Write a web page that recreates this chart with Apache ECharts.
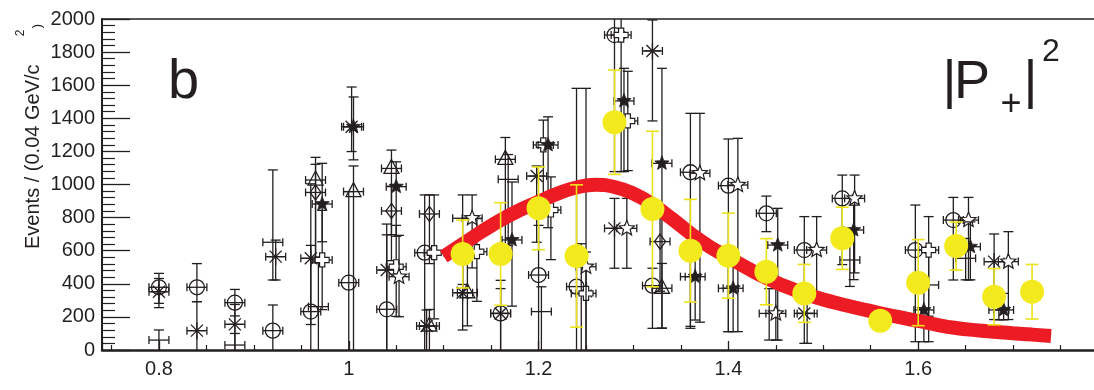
<!DOCTYPE html>
<html><head><meta charset="utf-8">
<script src="https://cdn.jsdelivr.net/npm/echarts@6/dist/echarts.min.js"></script>
<style>html,body{margin:0;padding:0;background:#fff;overflow:hidden}#chart{width:1094px;height:390px}</style>
</head><body><div id="chart"></div>
<script>
// ---------- axis ticks ----------
const xTickLabels = ['0.8', '1', '1.2', '1.4', '1.6'];
const yTickLabels = ['0','200','400','600','800','1000','1200','1400','1600','1800','2000'];
const X_MIN = 0.74, X_MAX = 1.80, Y_MIN = 0, Y_MAX = 2000;

// ---------- yellow data points (x, y, symmetric error) ----------
const yellowX   = [1.12, 1.16, 1.20, 1.24, 1.28, 1.32, 1.36, 1.40, 1.44, 1.48, 1.52, 1.56, 1.60, 1.64, 1.68, 1.72];
const yellowY   = [580, 580, 856, 568, 1376, 852, 600, 570, 473, 342, 675, 177, 407, 628, 322, 352];
const yellowErr = [205, 310, 250, 430, 315, 470, 310, 257, 200, 175, 188, 0, 260, 145, 170, 165];

// ---------- red fit curve ----------
const fitX = [1.10,1.12,1.14,1.16,1.18,1.20,1.22,1.24,1.26,1.28,1.30,1.32,1.34,1.36,1.38,1.40,1.42,1.44,1.46,1.48,1.50,1.52,1.54,1.56,1.58,1.60,1.62,1.64,1.66,1.68,1.70,1.72,1.74];
const fitY = [565,640,715,785,845,896,945,982,998,985,945,880,795,705,625,560,495,435,385,342,305,275,248,222,198,176,152,133,120,110,101,93,85];

// ---------- black points: [x, y, errLow, errHigh] ----------
const circlePts = [
  [0.80,379,123,84],[0.84,379,87,143],[0.88,286,80,80],[0.92,117,117,155],[0.96,232,232,400],
  [1.00,407,407,550],[1.04,246,246,450],[1.08,588,588,349],[1.16,221,221,200],[1.20,453,453,300],
  [1.24,383,383,1198],[1.28,1903,825,200],[1.32,389,258,105],[1.36,1074,943,356],[1.40,993,882,282],
  [1.44,826,111,104],[1.48,604,300,202],[1.52,916,400,141],[1.597,604,554,272],[1.637,785,362,137]
];
const asteriskPts = [
  [0.80,352,70,80],[0.84,117,117,175],[0.88,155,155,120],[0.923,564,141,100],[0.96,554,400,450],
  [1.003,1349,150,240],[1.04,483,483,278],[1.082,145,145,97],[1.12,346,225,200],[1.16,221,221,150],
  [1.198,1051,400,61],[1.28,735,241,181],[1.32,1807,423,187],[1.48,221,181,150],[1.68,534,350,167]
];
const trianglePts = [
  [0.965,1027,500,137],[1.005,957,957,155],[1.045,1097,400,111],[1.085,145,145,100],
  [1.125,346,200,200],[1.165,1152,600,132],[1.33,373,240,150]
];
const diamondPts = [
  [0.965,952,400,170],[1.045,840,300,150],[1.085,822,300,115],[1.328,655,300,200]
];
const filledStarPts = [
  [0.972,882,228,246],[1.005,1349,200,180],[1.05,987,300,150],[1.172,665,400,350],[1.21,1239,500,170],
  [1.29,1505,427,197],[1.33,1128,997,574],[1.365,443,262,200],[1.405,373,262,150],[1.452,634,574,222],
  [1.532,725,300,150],[1.606,242,192,150],[1.655,624,200,150],[1.69,242,60,100]
];
const openStarPts = [
  [1.053,443,242,250],[1.13,796,300,141],[1.25,503,503,1078],[1.293,735,241,181],[1.37,1068,900,362],
  [1.41,997,886,282],[1.45,221,161,150],[1.493,604,300,202],[1.533,916,450,141],[1.653,785,362,137],
  [1.695,534,350,181]
];
const openCrossPts = [
  [0.972,544,300,300],[1.05,503,300,250],[1.09,588,400,349],[1.135,594,300,200],[1.205,1239,400,150],
  [1.213,846,300,200],[1.25,342,342,250],[1.287,1903,825,200],[1.294,1384,300,300],[1.611,604,400,202]
];
const plusPts = [
  [0.80,60,60,61],[0.88,30,30,70],[0.92,651,228,437],[0.968,262,262,300],[1.12,796,400,141],
  [1.168,1031,400,150],[1.203,232,232,150],[1.245,342,342,300],[1.36,443,300,200],[1.40,373,262,150],
  [1.443,221,161,150],[1.483,221,181,150],[1.528,544,160,150],[1.611,393,343,200],[1.65,554,130,120],
  [1.685,242,60,100]
];

// ---------- styles ----------
const INK = '#231f20';
const RED = '#ed1c24';
const YEL = '#f2ea1c';
const YEL_BAR = '#ece21a';
const FONT = '"Liberation Sans", Arial, sans-serif';
const X_HALF = 0.0105;

function lineEl(x1, y1, x2, y2, color, lw) {
  return { type: 'line', shape: { x1, y1, x2, y2 }, style: { stroke: color, lineWidth: lw } };
}
function starPts(cx, cy, R, r) {
  const p = [];
  for (let i = 0; i < 10; i++) {
    const a = -Math.PI / 2 + i * Math.PI / 5;
    const rad = i % 2 === 0 ? R : r;
    p.push([cx + rad * Math.cos(a), cy + rad * Math.sin(a)]);
  }
  return p;
}
function markerEls(kind, cx, cy) {
  const st = { stroke: INK, lineWidth: 1.3, fill: 'none' };
  switch (kind) {
    case 'circle':
      return [{ type: 'circle', shape: { cx, cy, r: 7.5 }, style: st }];
    case 'asterisk': {
      const s = 8.5, d = 6;
      return [lineEl(cx - s, cy, cx + s, cy, INK, 1.3), lineEl(cx, cy - s, cx, cy + s, INK, 1.3),
              lineEl(cx - d, cy - d, cx + d, cy + d, INK, 1.3), lineEl(cx - d, cy + d, cx + d, cy - d, INK, 1.3)];
    }
    case 'triangle':
      return [{ type: 'polygon', shape: { points: [[cx, cy - 9], [cx + 7.5, cy + 5], [cx - 7.5, cy + 5]] }, style: st }];
    case 'diamond':
      return [{ type: 'polygon', shape: { points: [[cx, cy - 7.5], [cx + 5.5, cy], [cx, cy + 7.5], [cx - 5.5, cy]] }, style: st }];
    case 'fstar':
      return [{ type: 'polygon', shape: { points: starPts(cx, cy, 7.5, 3.2) }, style: { fill: INK, stroke: INK, lineWidth: 0.8 } }];
    case 'ostar':
      return [{ type: 'polygon', shape: { points: starPts(cx, cy, 8, 3.5) }, style: { fill: '#fff', stroke: INK, lineWidth: 1.2 } }];
    case 'ocross': {
      const a = 7, b = 2.6;
      return [{ type: 'polygon', shape: { points: [[cx - b, cy - a], [cx + b, cy - a], [cx + b, cy - b], [cx + a, cy - b], [cx + a, cy + b], [cx + b, cy + b], [cx + b, cy + a], [cx - b, cy + a], [cx - b, cy + b], [cx - a, cy + b], [cx - a, cy - b], [cx - b, cy - b]] }, style: { fill: '#fff', stroke: INK, lineWidth: 1.2 } }];
    }
    default:
      return [];
  }
}

function errRender(kind, color, lw, capHalf, xHalf) {
  return function (params, api) {
    const x = api.value(0), y = api.value(1), lo = api.value(2), hi = api.value(3);
    const c = api.coord([x, y]);
    const children = [];
    if (lo > 0 || hi > 0) {
      const yb = Math.max(y - lo, Y_MIN), yt = Math.min(y + hi, Y_MAX);
      const pb = api.coord([x, yb]), pt = api.coord([x, yt]);
      children.push(lineEl(pb[0], pb[1], pt[0], pt[1], color, lw));
      if (y - lo > Y_MIN) children.push(lineEl(pb[0] - capHalf, pb[1], pb[0] + capHalf, pb[1], color, lw));
      if (y + hi < Y_MAX) children.push(lineEl(pt[0] - capHalf, pt[1], pt[0] + capHalf, pt[1], color, lw));
    }
    if (xHalf > 0) {
      const pl = api.coord([x - xHalf, y]), pr = api.coord([x + xHalf, y]);
      children.push(lineEl(pl[0], pl[1], pr[0], pr[1], color, lw));
      children.push(lineEl(pl[0], pl[1] - 4, pl[0], pl[1] + 4, color, lw));
      children.push(lineEl(pr[0], pr[1] - 4, pr[0], pr[1] + 4, color, lw));
    }
    markerEls(kind, c[0], c[1]).forEach(e => children.push(e));
    return { type: 'group', children };
  };
}

function blackSeries(data, kind) {
  return {
    type: 'custom', data: data, clip: true, z: 2, silent: true,
    encode: { x: 0, y: 1 },
    renderItem: errRender(kind, INK, 1.3, 5, X_HALF)
  };
}

const yellowBars = yellowX.map((x, i) => [x, yellowY[i], yellowErr[i], yellowErr[i]]);
const yellowPts = yellowX.map((x, i) => [x, yellowY[i]]);
const fitData = fitX.map((x, i) => [x, fitY[i]]);

const chart = echarts.init(document.getElementById('chart'), null, { renderer: 'canvas' });
const option = {
  animation: false,
  backgroundColor: '#fff',
  grid: { left: 102, top: 19, width: 1006, height: 331, containLabel: false, outerBoundsMode: 'none' },
  xAxis: [{
    type: 'value', min: X_MIN, max: X_MAX, splitNumber: 5,
    axisLine: { show: true, onZero: false, lineStyle: { color: INK, width: 2.5 } },
    axisTick: { show: true, inside: true, length: 9, lineStyle: { color: INK, width: 1.3 } },
    minorTick: { show: true, splitNumber: 4, length: 5, lineStyle: { color: INK, width: 1.2 } },
    splitLine: { show: false },
    axisLabel: {
      color: INK, fontSize: 20, fontFamily: FONT, margin: 9,
      formatter: function (v) {
        const hit = xTickLabels.find(t => Math.abs(parseFloat(t) - v) < 1e-6);
        return hit || '';
      }
    }
  }, {
    type: 'value', min: X_MIN, max: X_MAX, position: 'top',
    axisLine: { show: true, onZero: false, lineStyle: { color: INK, width: 1.5 } },
    axisTick: { show: false }, axisLabel: { show: false }, splitLine: { show: false }
  }],
  yAxis: {
    type: 'value', min: Y_MIN, max: Y_MAX, interval: 200,
    axisLine: { show: true, lineStyle: { color: INK, width: 2 } },
    axisTick: { show: true, inside: true, length: 28, lineStyle: { color: INK, width: 1.3 } },
    minorTick: { show: true, splitNumber: 5, length: 13, lineStyle: { color: INK, width: 1.2 } },
    splitLine: { show: false },
    axisLabel: {
      color: INK, fontSize: 20, fontFamily: FONT, margin: 7,
      formatter: function (v) { return yTickLabels[Math.round(v / 200)]; }
    }
  },
  series: [
    blackSeries(plusPts, 'plus'),
    blackSeries(circlePts, 'circle'),
    blackSeries(asteriskPts, 'asterisk'),
    blackSeries(trianglePts, 'triangle'),
    blackSeries(diamondPts, 'diamond'),
    blackSeries(openCrossPts, 'ocross'),
    blackSeries(openStarPts, 'ostar'),
    blackSeries(filledStarPts, 'fstar'),
    {
      type: 'line', data: fitData, smooth: true, symbol: 'none', z: 3, silent: true,
      lineStyle: { color: RED, width: 14, cap: 'butt' }
    },
    {
      type: 'custom', data: yellowBars, z: 4, clip: true, silent: true, encode: { x: 0, y: 1 },
      renderItem: errRender('none', YEL_BAR, 1.6, 6.5, 0)
    },
    {
      type: 'scatter', data: yellowPts, symbol: 'circle', symbolSize: 24, z: 5, silent: true,
      itemStyle: { color: YEL, opacity: 1 }
    }
  ],
  graphic: [
    { type: 'text', x: 33, y: 249, rotation: Math.PI / 2, style: { text: 'Events / (0.04 GeV/c', fill: INK, font: '20px ' + FONT, textAlign: 'left', textVerticalAlign: 'middle' } },
    { type: 'text', x: 21, y: 33, rotation: Math.PI / 2, style: { text: '2', fill: INK, font: '12px ' + FONT, textAlign: 'center', textVerticalAlign: 'middle' } },
    { type: 'text', x: 37, y: 26, rotation: Math.PI / 2, style: { text: ')', fill: INK, font: '13px ' + FONT, textAlign: 'center', textVerticalAlign: 'middle' } },
    { type: 'text', x: 168, y: 83, style: { text: 'b', fill: INK, font: '56px ' + FONT, textAlign: 'left', textVerticalAlign: 'middle' } },
    { type: 'text', x: 949.5, y: 83, style: { text: '|', fill: INK, font: '54px ' + FONT, textAlign: 'center', textVerticalAlign: 'middle' } },
    { type: 'text', x: 954, y: 83, style: { text: 'P', fill: INK, font: '54px ' + FONT, textAlign: 'left', textVerticalAlign: 'middle' } },
    { type: 'text', x: 1011, y: 105, style: { text: '+', fill: INK, font: '36px ' + FONT, textAlign: 'center', textVerticalAlign: 'middle' } },
    { type: 'text', x: 1030.5, y: 83, style: { text: '|', fill: INK, font: '54px ' + FONT, textAlign: 'center', textVerticalAlign: 'middle' } },
    { type: 'text', x: 1051, y: 52, style: { text: '2', fill: INK, font: '32px ' + FONT, textAlign: 'center', textVerticalAlign: 'middle' } }
  ]
};
chart.setOption(option);
</script>
</body></html>
